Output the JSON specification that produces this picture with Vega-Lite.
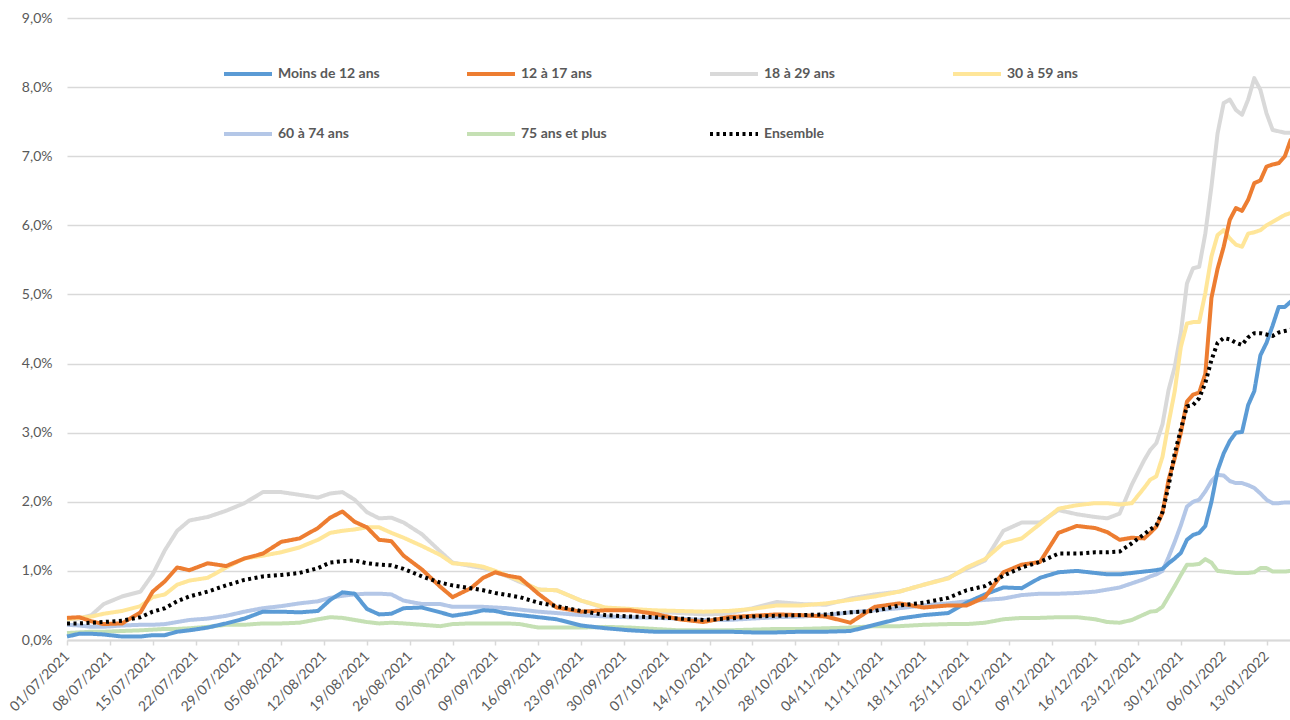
{
  "$schema": "https://vega.github.io/schema/vega-lite/v6.json",
  "width": 1224,
  "height": 622,
  "autosize": {"type": "none"},
  "padding": {"left": 67, "top": 18, "right": 0, "bottom": 80},
  "background": "white",
  "config": {
    "font": "Lato",
    "view": {"stroke": null},
    "legend": {
      "orient": "none",
      "direction": "horizontal",
      "legendX": 155,
      "legendY": 30,
      "columns": 4,
      "gridAlign": "all",
      "columnPadding": 79,
      "rowPadding": 26,
      "padding": 0,
      "symbolType": "stroke",
      "symbolSize": 2304,
      "symbolStrokeWidth": 3.5,
      "labelFont": "Lato",
      "labelFontSize": 14,
      "labelFontWeight": "bold",
      "labelColor": "#595959",
      "labelOffset": 4,
      "labelLimit": 300,
      "title": null
    }
  },
  "data": {
    "values": [
      {"t":"2021-07-01","a":0.05,"b":0.32,"c":0.30,"d":0.30,"e":0.22,"f":0.10,"g":0.24},
      {"t":"2021-07-03","a":0.09,"b":0.33,"c":0.31,"d":0.32,"e":0.21,"f":0.11,"g":0.24},
      {"t":"2021-07-05","a":0.09,"b":0.27,"c":0.36,"d":0.34,"e":0.19,"f":0.12,"g":0.25},
      {"t":"2021-07-07","a":0.08,"b":0.23,"c":0.52,"d":0.38,"e":0.19,"f":0.12,"g":0.26},
      {"t":"2021-07-10","a":0.05,"b":0.24,"c":0.63,"d":0.42,"e":0.21,"f":0.13,"g":0.28},
      {"t":"2021-07-13","a":0.05,"b":0.40,"c":0.70,"d":0.49,"e":0.22,"f":0.14,"g":0.33},
      {"t":"2021-07-15","a":0.07,"b":0.70,"c":0.95,"d":0.62,"e":0.22,"f":0.15,"g":0.41},
      {"t":"2021-07-17","a":0.07,"b":0.85,"c":1.30,"d":0.66,"e":0.23,"f":0.16,"g":0.46},
      {"t":"2021-07-19","a":0.12,"b":1.05,"c":1.58,"d":0.80,"e":0.26,"f":0.16,"g":0.56},
      {"t":"2021-07-21","a":0.14,"b":1.01,"c":1.73,"d":0.86,"e":0.29,"f":0.17,"g":0.63},
      {"t":"2021-07-24","a":0.18,"b":1.11,"c":1.78,"d":0.90,"e":0.31,"f":0.19,"g":0.70},
      {"t":"2021-07-27","a":0.24,"b":1.07,"c":1.87,"d":1.05,"e":0.35,"f":0.22,"g":0.79},
      {"t":"2021-07-30","a":0.31,"b":1.18,"c":1.98,"d":1.18,"e":0.41,"f":0.22,"g":0.87},
      {"t":"2021-08-02","a":0.41,"b":1.25,"c":2.14,"d":1.22,"e":0.46,"f":0.24,"g":0.92},
      {"t":"2021-08-05","a":0.41,"b":1.42,"c":2.14,"d":1.27,"e":0.49,"f":0.24,"g":0.94},
      {"t":"2021-08-08","a":0.40,"b":1.47,"c":2.10,"d":1.34,"e":0.53,"f":0.25,"g":0.97},
      {"t":"2021-08-11","a":0.42,"b":1.62,"c":2.06,"d":1.45,"e":0.56,"f":0.30,"g":1.04},
      {"t":"2021-08-13","a":0.58,"b":1.77,"c":2.12,"d":1.55,"e":0.61,"f":0.33,"g":1.12},
      {"t":"2021-08-15","a":0.69,"b":1.86,"c":2.14,"d":1.58,"e":0.64,"f":0.32,"g":1.14},
      {"t":"2021-08-17","a":0.67,"b":1.71,"c":2.03,"d":1.60,"e":0.66,"f":0.29,"g":1.15},
      {"t":"2021-08-19","a":0.45,"b":1.63,"c":1.85,"d":1.63,"e":0.67,"f":0.26,"g":1.11},
      {"t":"2021-08-21","a":0.37,"b":1.45,"c":1.76,"d":1.63,"e":0.67,"f":0.24,"g":1.09},
      {"t":"2021-08-23","a":0.38,"b":1.43,"c":1.77,"d":1.55,"e":0.66,"f":0.25,"g":1.08},
      {"t":"2021-08-25","a":0.46,"b":1.22,"c":1.70,"d":1.48,"e":0.57,"f":0.24,"g":1.03},
      {"t":"2021-08-28","a":0.47,"b":1.02,"c":1.53,"d":1.36,"e":0.52,"f":0.22,"g":0.92},
      {"t":"2021-08-31","a":0.40,"b":0.77,"c":1.28,"d":1.23,"e":0.52,"f":0.20,"g":0.83},
      {"t":"2021-09-02","a":0.35,"b":0.62,"c":1.12,"d":1.11,"e":0.48,"f":0.23,"g":0.79},
      {"t":"2021-09-05","a":0.39,"b":0.75,"c":1.07,"d":1.09,"e":0.48,"f":0.24,"g":0.75},
      {"t":"2021-09-07","a":0.43,"b":0.90,"c":1.04,"d":1.06,"e":0.48,"f":0.24,"g":0.72},
      {"t":"2021-09-09","a":0.42,"b":0.98,"c":0.98,"d":1.00,"e":0.47,"f":0.24,"g":0.68},
      {"t":"2021-09-11","a":0.38,"b":0.93,"c":0.92,"d":0.93,"e":0.46,"f":0.24,"g":0.65},
      {"t":"2021-09-13","a":0.36,"b":0.90,"c":0.84,"d":0.86,"e":0.44,"f":0.23,"g":0.62},
      {"t":"2021-09-16","a":0.33,"b":0.67,"c":0.73,"d":0.73,"e":0.41,"f":0.18,"g":0.54},
      {"t":"2021-09-19","a":0.30,"b":0.47,"c":0.72,"d":0.72,"e":0.39,"f":0.18,"g":0.49},
      {"t":"2021-09-23","a":0.21,"b":0.41,"c":0.57,"d":0.57,"e":0.36,"f":0.18,"g":0.42},
      {"t":"2021-09-27","a":0.17,"b":0.43,"c":0.46,"d":0.47,"e":0.34,"f":0.19,"g":0.36},
      {"t":"2021-10-01","a":0.14,"b":0.43,"c":0.44,"d":0.45,"e":0.33,"f":0.18,"g":0.34},
      {"t":"2021-10-05","a":0.12,"b":0.38,"c":0.41,"d":0.43,"e":0.32,"f":0.16,"g":0.33},
      {"t":"2021-10-09","a":0.12,"b":0.30,"c":0.39,"d":0.42,"e":0.31,"f":0.14,"g":0.31},
      {"t":"2021-10-13","a":0.12,"b":0.26,"c":0.37,"d":0.41,"e":0.29,"f":0.14,"g":0.29},
      {"t":"2021-10-17","a":0.12,"b":0.33,"c":0.38,"d":0.42,"e":0.29,"f":0.14,"g":0.31},
      {"t":"2021-10-21","a":0.11,"b":0.35,"c":0.46,"d":0.45,"e":0.31,"f":0.15,"g":0.34},
      {"t":"2021-10-25","a":0.11,"b":0.37,"c":0.55,"d":0.50,"e":0.33,"f":0.16,"g":0.35},
      {"t":"2021-10-29","a":0.12,"b":0.36,"c":0.52,"d":0.50,"e":0.34,"f":0.16,"g":0.36},
      {"t":"2021-11-02","a":0.12,"b":0.34,"c":0.51,"d":0.53,"e":0.36,"f":0.17,"g":0.37},
      {"t":"2021-11-06","a":0.13,"b":0.25,"c":0.60,"d":0.58,"e":0.40,"f":0.18,"g":0.40},
      {"t":"2021-11-10","a":0.22,"b":0.48,"c":0.66,"d":0.63,"e":0.43,"f":0.20,"g":0.42},
      {"t":"2021-11-14","a":0.31,"b":0.53,"c":0.70,"d":0.70,"e":0.46,"f":0.20,"g":0.50},
      {"t":"2021-11-18","a":0.36,"b":0.47,"c":0.80,"d":0.80,"e":0.50,"f":0.22,"g":0.54},
      {"t":"2021-11-22","a":0.39,"b":0.50,"c":0.90,"d":0.89,"e":0.53,"f":0.23,"g":0.61},
      {"t":"2021-11-25","a":0.54,"b":0.50,"c":1.03,"d":1.05,"e":0.56,"f":0.23,"g":0.72},
      {"t":"2021-11-28","a":0.66,"b":0.62,"c":1.15,"d":1.17,"e":0.58,"f":0.25,"g":0.78},
      {"t":"2021-12-01","a":0.76,"b":0.98,"c":1.58,"d":1.40,"e":0.60,"f":0.30,"g":0.93},
      {"t":"2021-12-04","a":0.75,"b":1.09,"c":1.70,"d":1.47,"e":0.65,"f":0.32,"g":1.05},
      {"t":"2021-12-07","a":0.90,"b":1.13,"c":1.70,"d":1.68,"e":0.67,"f":0.32,"g":1.13},
      {"t":"2021-12-10","a":0.98,"b":1.55,"c":1.88,"d":1.90,"e":0.67,"f":0.33,"g":1.25},
      {"t":"2021-12-13","a":1.00,"b":1.65,"c":1.82,"d":1.95,"e":0.68,"f":0.33,"g":1.25},
      {"t":"2021-12-16","a":0.97,"b":1.62,"c":1.78,"d":1.98,"e":0.70,"f":0.30,"g":1.27},
      {"t":"2021-12-18","a":0.95,"b":1.56,"c":1.76,"d":1.98,"e":0.73,"f":0.26,"g":1.27},
      {"t":"2021-12-20","a":0.95,"b":1.45,"c":1.83,"d":1.96,"e":0.76,"f":0.25,"g":1.28},
      {"t":"2021-12-22","a":0.97,"b":1.48,"c":2.25,"d":1.98,"e":0.82,"f":0.29,"g":1.40},
      {"t":"2021-12-24","a":0.99,"b":1.47,"c":2.60,"d":2.20,"e":0.88,"f":0.37,"g":1.53},
      {"t":"2021-12-25","a":1.00,"b":1.55,"c":2.75,"d":2.32,"e":0.92,"f":0.41,"g":1.60},
      {"t":"2021-12-26","a":1.01,"b":1.64,"c":2.85,"d":2.37,"e":0.95,"f":0.42,"g":1.66},
      {"t":"2021-12-27","a":1.03,"b":1.84,"c":3.12,"d":2.65,"e":1.00,"f":0.48,"g":1.85},
      {"t":"2021-12-28","a":1.11,"b":2.32,"c":3.62,"d":3.14,"e":1.20,"f":0.63,"g":2.23},
      {"t":"2021-12-29","a":1.18,"b":2.63,"c":3.95,"d":3.60,"e":1.42,"f":0.78,"g":2.70},
      {"t":"2021-12-30","a":1.26,"b":3.00,"c":4.44,"d":4.24,"e":1.66,"f":0.94,"g":3.05},
      {"t":"2021-12-31","a":1.45,"b":3.45,"c":5.16,"d":4.58,"e":1.93,"f":1.09,"g":3.38},
      {"t":"2022-01-01","a":1.52,"b":3.55,"c":5.38,"d":4.60,"e":2.00,"f":1.09,"g":3.40},
      {"t":"2022-01-02","a":1.55,"b":3.58,"c":5.40,"d":4.60,"e":2.03,"f":1.10,"g":3.50},
      {"t":"2022-01-03","a":1.65,"b":3.85,"c":5.88,"d":5.02,"e":2.15,"f":1.17,"g":3.72},
      {"t":"2022-01-04","a":2.00,"b":4.95,"c":6.56,"d":5.55,"e":2.30,"f":1.12,"g":4.05},
      {"t":"2022-01-05","a":2.45,"b":5.37,"c":7.33,"d":5.86,"e":2.39,"f":1.00,"g":4.30},
      {"t":"2022-01-06","a":2.70,"b":5.69,"c":7.77,"d":5.93,"e":2.38,"f":0.99,"g":4.37},
      {"t":"2022-01-07","a":2.88,"b":6.08,"c":7.82,"d":5.81,"e":2.30,"f":0.98,"g":4.35},
      {"t":"2022-01-08","a":3.00,"b":6.25,"c":7.67,"d":5.72,"e":2.27,"f":0.97,"g":4.30},
      {"t":"2022-01-09","a":3.01,"b":6.21,"c":7.60,"d":5.69,"e":2.27,"f":0.97,"g":4.27},
      {"t":"2022-01-10","a":3.40,"b":6.37,"c":7.82,"d":5.88,"e":2.24,"f":0.97,"g":4.38},
      {"t":"2022-01-11","a":3.60,"b":6.61,"c":8.13,"d":5.90,"e":2.20,"f":0.98,"g":4.44},
      {"t":"2022-01-12","a":4.12,"b":6.65,"c":7.96,"d":5.93,"e":2.12,"f":1.04,"g":4.44},
      {"t":"2022-01-13","a":4.30,"b":6.85,"c":7.62,"d":6.00,"e":2.03,"f":1.04,"g":4.42},
      {"t":"2022-01-14","a":4.55,"b":6.88,"c":7.38,"d":6.05,"e":1.98,"f":0.99,"g":4.40},
      {"t":"2022-01-15","a":4.82,"b":6.90,"c":7.36,"d":6.10,"e":1.98,"f":0.99,"g":4.45},
      {"t":"2022-01-16","a":4.82,"b":7.00,"c":7.34,"d":6.15,"e":1.99,"f":0.99,"g":4.47},
      {"t":"2022-01-17","a":4.90,"b":7.25,"c":7.34,"d":6.18,"e":1.99,"f":1.00,"g":4.49}
    ]
  },
  "transform": [
    {"fold": ["c", "d", "e", "f", "a", "b", "g"], "as": ["k", "v"]},
    {"lookup": "k", "from": {"data": {"values": [
      {"k": "a", "serie": "Moins de 12 ans"},
      {"k": "b", "serie": "12 à 17 ans"},
      {"k": "c", "serie": "18 à 29 ans"},
      {"k": "d", "serie": "30 à 59 ans"},
      {"k": "e", "serie": "60 à 74 ans"},
      {"k": "f", "serie": "75 ans et plus"},
      {"k": "g", "serie": "Ensemble"}
    ]}, "key": "k", "fields": ["serie"]}}
  ],
  "mark": {"type": "line", "interpolate": "linear", "strokeJoin": "round"},
  "encoding": {
    "x": {
      "field": "t",
      "type": "temporal",
      "scale": {"type": "utc", "domain": [{"year": 2021, "month": 7, "date": 1, "utc": true}, {"year": 2022, "month": 1, "date": 17, "utc": true}]},
      "axis": {
        "title": null,
        "values": [
          {"year": 2021, "month": 7, "date": 1, "utc": true},
          {"year": 2021, "month": 7, "date": 8, "utc": true},
          {"year": 2021, "month": 7, "date": 15, "utc": true},
          {"year": 2021, "month": 7, "date": 22, "utc": true},
          {"year": 2021, "month": 7, "date": 29, "utc": true},
          {"year": 2021, "month": 8, "date": 5, "utc": true},
          {"year": 2021, "month": 8, "date": 12, "utc": true},
          {"year": 2021, "month": 8, "date": 19, "utc": true},
          {"year": 2021, "month": 8, "date": 26, "utc": true},
          {"year": 2021, "month": 9, "date": 2, "utc": true},
          {"year": 2021, "month": 9, "date": 9, "utc": true},
          {"year": 2021, "month": 9, "date": 16, "utc": true},
          {"year": 2021, "month": 9, "date": 23, "utc": true},
          {"year": 2021, "month": 9, "date": 30, "utc": true},
          {"year": 2021, "month": 10, "date": 7, "utc": true},
          {"year": 2021, "month": 10, "date": 14, "utc": true},
          {"year": 2021, "month": 10, "date": 21, "utc": true},
          {"year": 2021, "month": 10, "date": 28, "utc": true},
          {"year": 2021, "month": 11, "date": 4, "utc": true},
          {"year": 2021, "month": 11, "date": 11, "utc": true},
          {"year": 2021, "month": 11, "date": 18, "utc": true},
          {"year": 2021, "month": 11, "date": 25, "utc": true},
          {"year": 2021, "month": 12, "date": 2, "utc": true},
          {"year": 2021, "month": 12, "date": 9, "utc": true},
          {"year": 2021, "month": 12, "date": 16, "utc": true},
          {"year": 2021, "month": 12, "date": 23, "utc": true},
          {"year": 2021, "month": 12, "date": 30, "utc": true},
          {"year": 2022, "month": 1, "date": 6, "utc": true},
          {"year": 2022, "month": 1, "date": 13, "utc": true}
        ],
        "labelExpr": "utcFormat(datum.value, '%d/%m/%Y')",
        "labelAngle": -45,
        "labelAlign": "right",
        "labelBaseline": "middle",
        "labelPadding": 9,
        "labelFontSize": 14,
        "labelFont": "Lato",
        "labelColor": "#595959",
        "labelOverlap": false,
        "labelBound": false,
        "labelFlush": false,
        "grid": false,
        "domainColor": "#d9d9d9",
        "domainWidth": 2,
        "tickColor": "#d9d9d9",
        "tickWidth": 1.5,
        "tickSize": 5
      }
    },
    "y": {
      "field": "v",
      "type": "quantitative",
      "scale": {"domain": [0, 9], "nice": false},
      "axis": {
        "title": null,
        "values": [0, 1, 2, 3, 4, 5, 6, 7, 8, 9],
        "labelExpr": "replace(format(datum.value, '.1f'), '.', ',') + '%'",
        "domain": false,
        "ticks": false,
        "grid": true,
        "gridColor": "#d9d9d9",
        "gridWidth": 1.5,
        "labelPadding": 15,
        "labelFontSize": 14,
        "labelFont": "Lato",
        "labelColor": "#595959"
      }
    },
    "color": {
      "field": "serie",
      "type": "nominal",
      "scale": {
        "domain": ["Moins de 12 ans", "12 à 17 ans", "18 à 29 ans", "30 à 59 ans", "60 à 74 ans", "75 ans et plus", "Ensemble"],
        "range": ["#5B9BD5", "#ED7D31", "#D9D9D9", "#FFE699", "#B4C7E7", "#C5E0B4", "#000000"]
      },
      "legend": {"title": null}
    },
    "strokeDash": {
      "field": "serie",
      "type": "nominal",
      "scale": {
        "domain": ["Moins de 12 ans", "12 à 17 ans", "18 à 29 ans", "30 à 59 ans", "60 à 74 ans", "75 ans et plus", "Ensemble"],
        "range": [[1, 0], [1, 0], [1, 0], [1, 0], [1, 0], [1, 0], [3, 3.5]]
      },
      "legend": {"title": null}
    },
    "strokeWidth": {
      "field": "serie",
      "type": "nominal",
      "scale": {
        "domain": ["Moins de 12 ans", "12 à 17 ans", "18 à 29 ans", "30 à 59 ans", "60 à 74 ans", "75 ans et plus", "Ensemble"],
        "range": [4, 4, 3.2, 3.2, 3.2, 3.2, 3]
      },
      "legend": null
    }
  }
}
